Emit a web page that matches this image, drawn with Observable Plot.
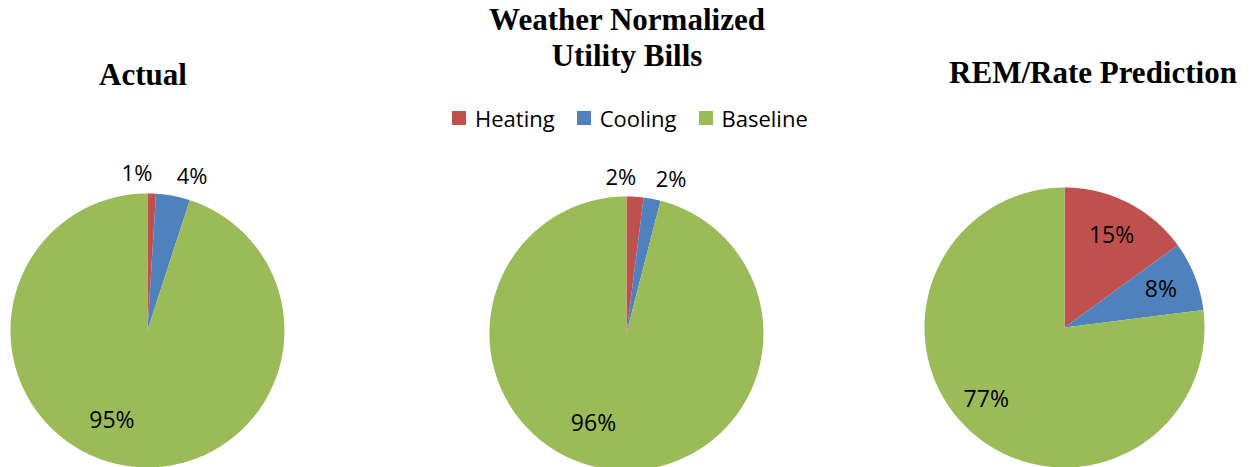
<!DOCTYPE html>
<html>
<head>
<meta charset="utf-8">
<script src="https://cdn.jsdelivr.net/npm/d3@7"></script>
<script src="https://cdn.jsdelivr.net/npm/@observablehq/plot@0.6"></script>
<style>
  html, body { margin: 0; padding: 0; background: #fff; overflow: hidden; }
  #chart { position: relative; width: 1259px; height: 467px; overflow: hidden; font-family: "Open Sans", sans-serif; }
  .pie { position: absolute; }
  .title {
    position: absolute; transform: translateX(-50%);
    font-family: "Liberation Serif", "Times New Roman", serif; font-weight: bold;
    font-size: 31px; line-height: 36px; text-align: center; color: #000; white-space: pre;
  }
  .legendWrap { position: absolute; }
  .legendWrap svg { margin-right: 9px; }
</style>
</head>
<body>
<div id="chart"></div>
<script>
// Energy end-use shares (%) for three views of the same home
const categories = ["Heating", "Cooling", "Baseline"];
const colors = ["#C0504D", "#4F81BD", "#9BBB59"];
const chartTitles = ["Actual", "Weather Normalized\nUtility Bills", "REM/Rate Prediction"];
const actual = [1, 4, 95];
const weatherNormalized = [2, 2, 96];
const remRatePrediction = [15, 8, 77];

const seriesValues = [actual, weatherNormalized, remRatePrediction];

// Pie placement: centre and radius in page pixels, title anchor
const layout = [
  {cx: 146.5, cy: 330, r: 137, titleX: 143, titleTop: 57},
  {cx: 626, cy: 333, r: 137, titleX: 627, titleTop: 2},
  {cx: 1064, cy: 327, r: 140, titleX: 1093, titleTop: 55}
];

const L = 1.35; // half-extent of each pie's frame, in radii
const chart = document.getElementById("chart");

// Slice outlines as closed polygons in unit-radius coordinates (clockwise from 12 o'clock)
function slices(values) {
  const arcs = d3.pie().sort(null).value(d => d)(values);
  const pts = [];
  arcs.forEach((a, i) => {
    const category = categories[i];
    const n = Math.max(2, Math.ceil((a.endAngle - a.startAngle) / (Math.PI / 360)));
    pts.push({category, x: 0, y: 0});
    for (let k = 0; k <= n; k++) {
      const t = a.startAngle + (a.endAngle - a.startAngle) * k / n;
      pts.push({category, x: Math.sin(t), y: Math.cos(t)});
    }
    pts.push({category, x: 0, y: 0});
  });
  return {arcs, pts};
}

// Percentage labels: thin slices outside, the dominant slice offset from its corner, others centred
function sliceLabels(arcs) {
  let outside = 0;
  return arcs.map(a => {
    const v = a.data;
    const mid = (a.startAngle + a.endAngle) / 2;
    const s = Math.sin(mid), c = Math.cos(mid);
    let rr, anchor, line, size;
    if (v <= 5) {
      rr = 1.14; anchor = outside++ === 0 ? "end" : "start"; line = "middle"; size = 22;
    } else if (v > 50) {
      rr = 0.6; anchor = s < 0 ? "end" : "start"; line = c < 0 ? "top" : "bottom"; size = 23;
    } else {
      rr = 0.74; anchor = "middle"; line = "middle"; size = 23;
    }
    return {text: `${v}%`, x: rr * s, y: rr * c, anchor, line, size};
  });
}

seriesValues.forEach((values, k) => {
  const {cx, cy, r} = layout[k];
  const S = 2 * L * r;
  const {arcs, pts} = slices(values);
  const labels = sliceLabels(arcs);
  const textMarks = d3.groups(labels, d => `${d.anchor}|${d.line}|${d.size}`).map(([, g]) =>
    Plot.text(g, {
      x: "x", y: "y", text: "text",
      textAnchor: g[0].anchor, lineAnchor: g[0].line, fontSize: g[0].size,
      fill: "black"
    })
  );
  const plot = Plot.plot({
    width: S, height: S, margin: 0,
    x: {domain: [-L, L], axis: null},
    y: {domain: [-L, L], axis: null},
    color: {domain: categories, range: colors},
    style: {background: "transparent", fontFamily: "'Open Sans', sans-serif", overflow: "visible"},
    marks: [
      Plot.line(pts, {x: "x", y: "y", z: "category", fill: "category", stroke: "none"}),
      ...textMarks
    ]
  });
  const holder = document.createElement("div");
  holder.className = "pie";
  holder.style.left = `${cx - L * r}px`;
  holder.style.top = `${cy - L * r}px`;
  holder.style.width = `${S}px`;
  holder.style.height = `${S}px`;
  holder.appendChild(plot);
  chart.appendChild(holder);
});

// Titles
chartTitles.forEach((t, k) => {
  const d = document.createElement("div");
  d.className = "title";
  d.textContent = t;
  d.style.left = `${layout[k].titleX}px`;
  d.style.top = `${layout[k].titleTop}px`;
  chart.appendChild(d);
});

// Shared legend
const legend = Plot.legend({
  color: {type: "ordinal", domain: categories, range: colors},
  swatchSize: 14,
  style: {fontSize: "22px", fontFamily: "'Open Sans', sans-serif", color: "#000", margin: 0}
});
const legendWrap = document.createElement("div");
legendWrap.className = "legendWrap";
legendWrap.style.left = "452px";
legendWrap.style.top = "101px";
legendWrap.appendChild(legend);
chart.appendChild(legendWrap);
</script>
</body>
</html>
